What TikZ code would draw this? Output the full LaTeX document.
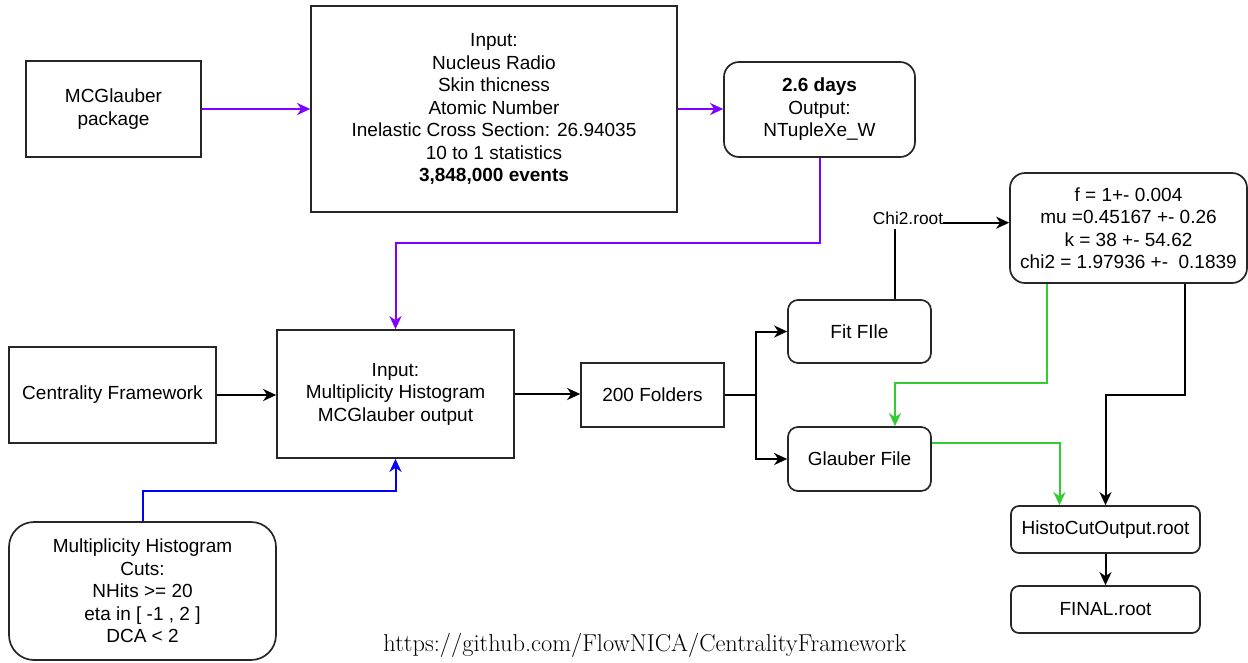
\documentclass[tikz,border=0pt]{standalone}
\usepackage{fontspec}
\setsansfont{Liberation Sans}
\usetikzlibrary{arrows.meta,calc}
\definecolor{pur}{HTML}{7F00FF}
\definecolor{grn}{HTML}{33CC33}
\definecolor{blu}{HTML}{0000FF}
\tikzset{
  lbl/.style={font=\sffamily\fontsize{19}{22.5}\selectfont, align=center, inner sep=0pt},
  box/.style={lbl, draw=black!85, line width=1.7pt, fill=white},
  rbox/.style={box, rounded corners=#1},
  conn/.style={line width=2pt, -{Stealth[length=13pt,width=12pt,inset=4pt]}},
  plain/.style={line width=2pt},
}
\begin{document}
\begin{tikzpicture}[x=1pt,y=-1pt]
\useasboundingbox (0,0) rectangle (1248,662);
% nodes
\node[box, minimum width=175, minimum height=96] (mcg) at (113.5,109) {MCGlauber\\package};
\node[box, minimum width=366, minimum height=206] (inp1) at (494,109) {Input:\\Nucleus Radio\\Skin thicness\\Atomic Number\\Inelastic Cross Section: 26.94035\\10 to 1 statistics\\\textbf{3,848,000 events}};
\node[rbox=15pt, minimum width=191, minimum height=95] (days) at (819.5,109.5) {\textbf{2.6 days}\\Output:\\NTupleXe\_W};
\node[rbox=15pt, minimum width=237, minimum height=110] (fbox) at (1128.5,228) {f = 1+- 0.004\\mu =0.45167 +- 0.26\\k = 38 +- 54.62\\chi2 = 1.97936 +-\ \ 0.1839};
\node[lbl, font=\sffamily\fontsize{17.3}{20}\selectfont] (chi) at (908,218) {Chi2.root};
\node[rbox=10pt, minimum width=143, minimum height=63] (fit) at (859.5,331.5) {Fit FIle};
\node[box, minimum width=207, minimum height=96] (cf) at (112.5,395) {Centrality Framework};
\node[box, minimum width=237, minimum height=128] (inp2) at (395.5,394) {Input:\\Multiplicity Histogram\\MCGlauber output};
\node[box, minimum width=143, minimum height=64] (fold) at (652.5,395) {200 Folders};
\node[rbox=10pt, minimum width=143, minimum height=64] (glau) at (859.5,459) {Glauber File};
\node[rbox=8pt, minimum width=189, minimum height=47] (histo) at (1105.5,529.5) {HistoCutOutput.root};
\node[rbox=8pt, minimum width=189, minimum height=47] (final) at (1105.5,609.5) {FINAL.root};
\node[rbox=25pt, minimum width=267, minimum height=138] (cuts) at (142.5,591) {Multiplicity Histogram\\Cuts:\\NHits >= 20\\eta in [ -1 , 2 ]\\DCA < 2};
\node[anchor=base, inner sep=0pt, font=\rmfamily\fontsize{24.4}{28}\selectfont] (url) at (645,651) {https://github.com/FlowNICA/CentralityFramework};
% coordinates
\coordinate (p1) at (395.5,243);
\coordinate (c2) at (395.5,491);
\coordinate (sp) at (756,395);
\coordinate (g1) at (895,383);
\coordinate (b1) at (1105.5,395);
% connectors
\draw[conn, pur] (mcg.east) -- (inp1.west);
\draw[conn, pur] (inp1.east) -- (inp1.east -| days.west);
\draw[conn, pur] (days.south) |- (p1) -- (inp2.north);
\draw[conn] (cf.east) -- (cf.east -| inp2.west);
\draw[conn, blu] (cuts.north) |- (c2) -- (inp2.south);
\draw[conn] (inp2.east) -- (inp2.east -| fold.west);
\draw[plain] (fold.east) -- (sp);
\draw[conn] (sp) |- (fit.west);
\draw[conn] (sp) |- (glau.west);
\draw[plain] ([xshift=35.5pt]fit.north) -- ([xshift=35.5pt,yshift=-4pt]fit.north |- chi.south);
\draw[conn] ([yshift=-4.7pt]chi.east) -- ([yshift=-4.7pt]chi.east -| fbox.west);
\draw[conn, grn] ([xshift=-82pt]fbox.south) |- (g1) -- ([xshift=35.5pt]glau.north);
\draw[conn, grn] ([yshift=16.5pt]glau.east) -| ([xshift=-46pt]histo.north);
\draw[conn] ([xshift=56pt]fbox.south) |- (b1) -- (histo.north);
\draw[conn] (histo.south) -- (final.north);
\end{tikzpicture}
\end{document}
